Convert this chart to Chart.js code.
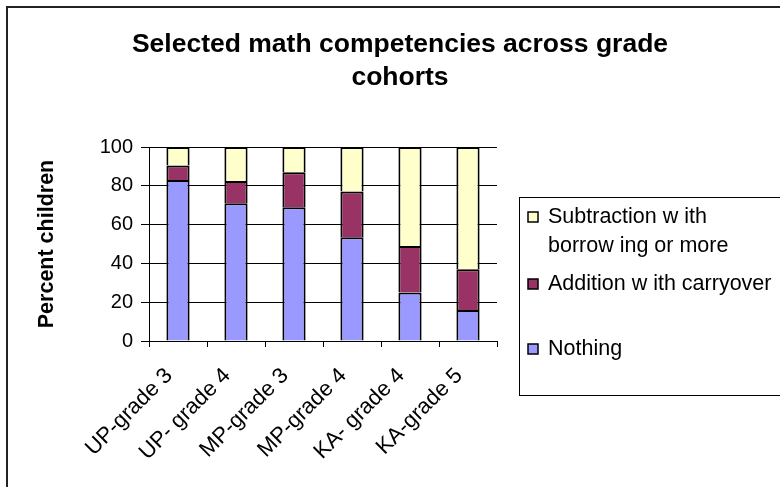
<!DOCTYPE html>
<html>
<head>
<meta charset="utf-8">
<script src="https://cdn.jsdelivr.net/npm/chart.js@4/dist/chart.umd.min.js"></script>
<style>
html,body{margin:0;padding:0;background:#fff;}
#wrap{width:780px;height:487px;position:relative;}
</style>
</head>
<body>
<div id="wrap"><canvas id="c" width="780" height="487"></canvas></div>
<script>
const titleLines = ['Selected math competencies across grade', 'cohorts'];
const yAxisTitle = 'Percent children';
const categories = ['UP-grade 3', 'UP- grade 4', 'MP-grade 3', 'MP-grade 4', 'KA- grade 4', 'KA-grade 5'];
const nothing = [83, 71, 69, 53.5, 25, 16];
const addition = [7.5, 11.5, 18, 23.5, 24, 21];
const subtraction = [9.5, 17.5, 13, 23, 51, 63];
const legendLabels = [['Subtraction w ith', 'borrow ing or more'], ['Addition w ith carryover'], ['Nothing']];

const FONT = "'Liberation Sans', Arial, sans-serif";

const framePlugin = {
  id: 'frame',
  beforeDraw(chart) {
    const ctx = chart.ctx;
    ctx.save();
    ctx.fillStyle = '#fff';
    ctx.fillRect(0, 0, chart.width, chart.height);
    ctx.strokeStyle = '#222';
    ctx.lineWidth = 2;
    ctx.beginPath();
    ctx.moveTo(7, 487);
    ctx.lineTo(7, 7);
    ctx.lineTo(780, 7);
    ctx.stroke();
    ctx.restore();
  }
};

const titlePlugin = {
  id: 'customTitle',
  afterDraw(chart) {
    const ctx = chart.ctx;
    ctx.save();
    ctx.fillStyle = '#000';
    ctx.font = 'bold 26.5px ' + FONT;
    ctx.textAlign = 'center';
    ctx.textBaseline = 'alphabetic';
    ctx.fillText(titleLines[0], 400, 52);
    ctx.fillText(titleLines[1], 400, 85);
    ctx.restore();
  }
};

const legendPlugin = {
  id: 'customLegend',
  afterDraw(chart) {
    const ctx = chart.ctx;
    const ds = chart.data.datasets;
    ctx.save();
    ctx.strokeStyle = '#000';
    ctx.lineWidth = 1;
    ctx.strokeRect(519.5, 197.5, 300, 198);
    const order = [2, 1, 0];
    const baselines = [223, 290, 355];
    ctx.font = '21.5px ' + FONT;
    ctx.textAlign = 'left';
    ctx.textBaseline = 'alphabetic';
    order.forEach((di, i) => {
      const b = baselines[i];
      ctx.fillStyle = ds[di].backgroundColor;
      ctx.fillRect(528, b - 11, 10, 10);
      ctx.strokeStyle = '#000';
      ctx.lineWidth = 1.5;
      ctx.strokeRect(528, b - 11, 10, 10);
      ctx.fillStyle = '#000';
      legendLabels[i].forEach((t, li) => ctx.fillText(t, 548, b + li * 29));
    });
    ctx.restore();
  }
};

new Chart(document.getElementById('c'), {
  type: 'bar',
  data: {
    labels: categories,
    datasets: [
      { label: 'Nothing', data: nothing, backgroundColor: '#9999FF', borderColor: '#000', borderWidth: 2 },
      { label: 'Addition with carryover', data: addition, backgroundColor: '#993366', borderColor: '#000', borderWidth: 2 },
      { label: 'Subtraction with borrowing or more', data: subtraction, backgroundColor: '#FFFFCC', borderColor: '#000', borderWidth: 2 }
    ]
  },
  options: {
    responsive: false,
    animation: false,
    devicePixelRatio: 1,
    layout: { padding: { left: 0, top: 147, right: 283, bottom: 0 } },
    datasets: { bar: { barPercentage: 0.4, categoryPercentage: 1 } },
    plugins: { legend: { display: false }, title: { display: false }, tooltip: { enabled: false } },
    scales: {
      x: {
        stacked: true,
        afterFit(s) { s.height = 146; },
        grid: { drawOnChartArea: false, drawTicks: true, tickLength: 6, color: '#000', lineWidth: 1 },
        border: { color: '#000', width: 1 },
        ticks: { color: '#000', font: { family: FONT, size: 22 }, minRotation: 45, maxRotation: 45, autoSkip: false, padding: 16, labelOffset: -9 }
      },
      y: {
        stacked: true,
        min: 0, max: 100,
        afterFit(s) { s.width = 149; },
        grid: { color: '#000', lineWidth: 1, tickLength: 8 },
        border: { color: '#000', width: 1 },
        ticks: { color: '#000', stepSize: 20, font: { family: FONT, size: 20 }, padding: 8 },
        title: { display: true, text: yAxisTitle, color: '#000', font: { family: FONT, size: 21.5, weight: 'bold' }, padding: { top: 34, bottom: 0 } }
      }
    }
  },
  plugins: [framePlugin, titlePlugin, legendPlugin]
});
</script>
</body>
</html>
